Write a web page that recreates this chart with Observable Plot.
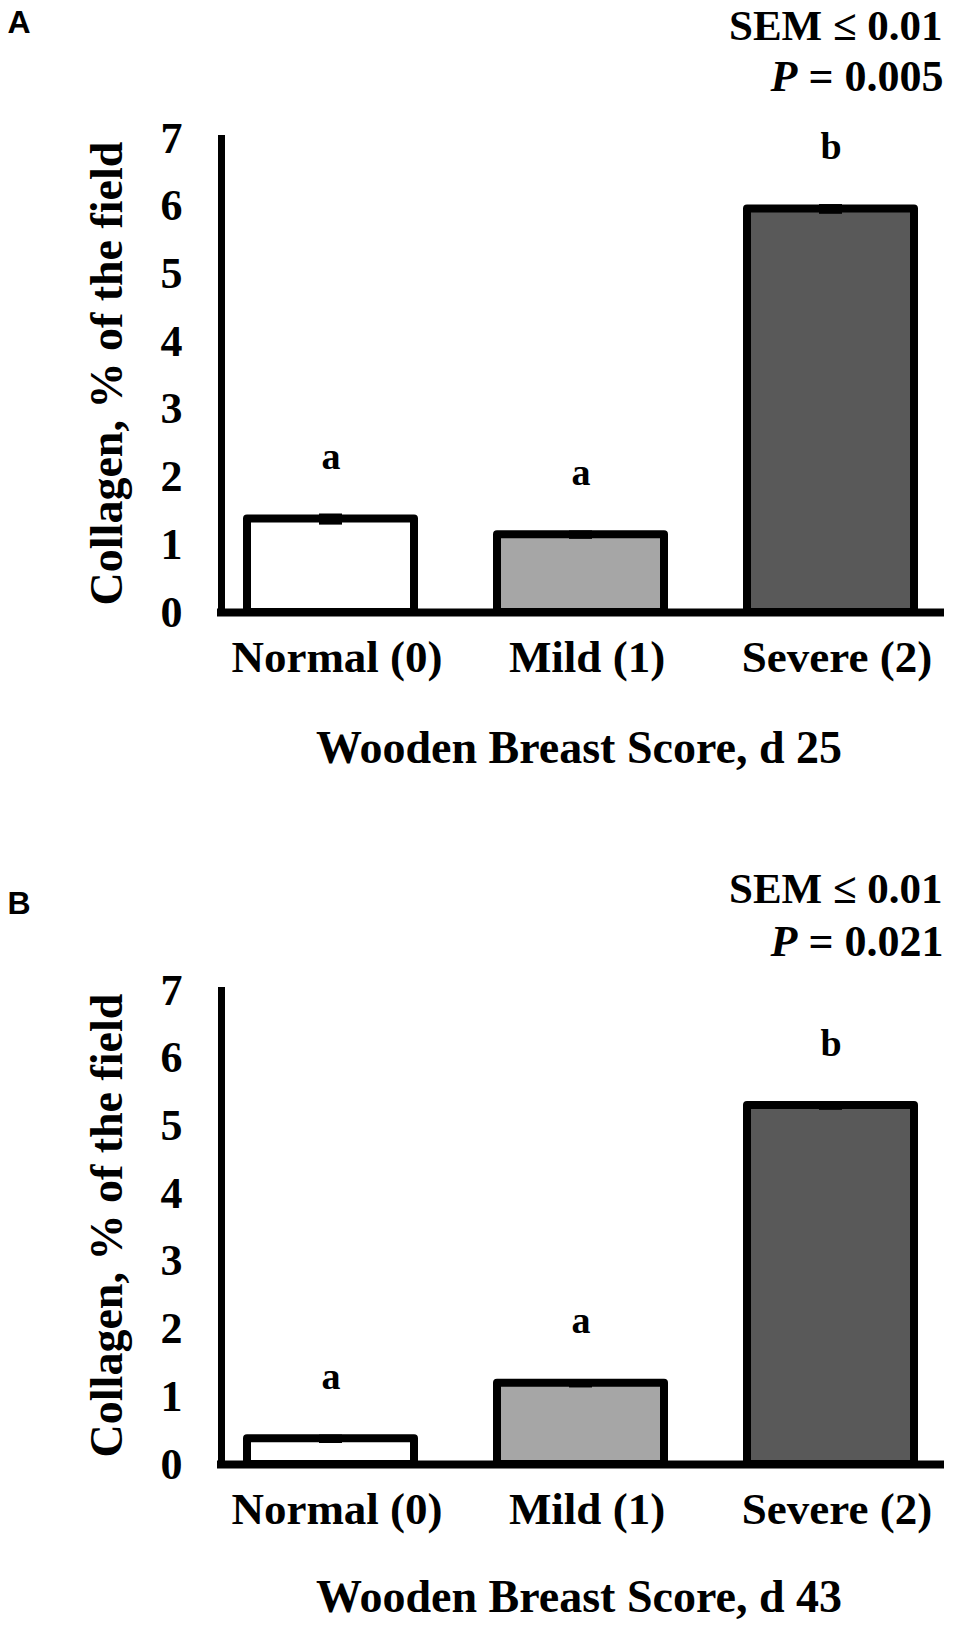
<!DOCTYPE html>
<html>
<head>
<meta charset="utf-8">
<script src="https://cdn.jsdelivr.net/npm/d3@7"></script>
<script src="https://cdn.jsdelivr.net/npm/@observablehq/plot@0.6"></script>
<style>
  body { margin: 0; background: #fff; }
  #chart svg { display: block; }
</style>
</head>
<body>
<div id="chart"></div>
<script>
// ---- data ----
const categories = ["Normal (0)", "Mild (1)", "Severe (2)"];
const fills = ["#ffffff", "#a6a6a6", "#595959"];
const yTicks = [0, 1, 2, 3, 4, 5, 6, 7];
const yLabel = "Collagen, % of the field";

const valuesA = [1.38, 1.15, 5.96];
const errorsA = [0.06, 0.04, 0.05];
const lettersA = ["a", "a", "b"];
const semA = "SEM ≤ 0.01";
const pA = "P = 0.005";
const titleA = "Wooden Breast Score, d 25";

const valuesB = [0.38, 1.20, 5.30];
const errorsB = [0.04, 0.04, 0.04];
const lettersB = ["a", "a", "b"];
const semB = "SEM ≤ 0.01";
const pB = "P = 0.021";
const titleB = "Wooden Breast Score, d 43";

// ---- layout (not data) ----
const layoutA = {panel: "A", height: 852, letterDy: -106, semDy: -99, pDy: -48, titleDy: 150};
const layoutB = {panel: "B", height: 776, letterDy: -77, semDy: -88, pDy: -35, titleDy: 147};

const serif = "'Liberation Serif', 'Times New Roman', Times, serif";
const sans = "'Liberation Sans', Arial, Helvetica, sans-serif";

function drawPanel(values, errors, letters, sem, p, xTitle, lay) {
  const data = categories.map((c, i) => ({
    cat: c, value: values[i], err: errors[i], letter: letters[i], fill: fills[i]
  }));
  const svg = Plot.plot({
    width: 954,
    height: lay.height,
    marginLeft: 221,
    marginRight: 14,
    marginTop: 138,
    marginBottom: lay.height - 612,
    style: {fontFamily: serif, fontWeight: "bold", background: "#fff", overflow: "visible", color: "#000"},
    x: {type: "band", domain: categories, paddingInner: 0.33, paddingOuter: 0.1, label: null},
    y: {domain: [0, 7], label: null},
    color: {type: "identity"},
    marks: [
      Plot.barY(data, {x: "cat", y: "value", fill: "fill", stroke: "#000", strokeWidth: 8, strokeLinejoin: "round"}),
      Plot.ruleX(data, {x: "cat", y1: d => d.value - d.err, y2: d => d.value + d.err, stroke: "#000", strokeWidth: 3}),
      Plot.tickY(data, {x: "cat", y: d => d.value + d.err, stroke: "#000", strokeWidth: 3, insetLeft: 72, insetRight: 72}),
      Plot.tickY(data, {x: "cat", y: d => d.value - d.err, stroke: "#000", strokeWidth: 3, insetLeft: 72, insetRight: 72}),
      Plot.text(data, {x: "cat", y: d => d.value, text: "letter", dy: -50, lineAnchor: "bottom", fontSize: 38, fill: "#000"}),
      Plot.ruleY([0], {stroke: "#000", strokeWidth: 8, strokeLinecap: "square"}),
      Plot.frame({anchor: "left", stroke: "#000", strokeWidth: 7}),
      Plot.axisY(yTicks, {tickSize: 0, tickPadding: 39, fontSize: 44, label: null, tickFormat: d => String(d), fill: "#000"}),
      Plot.axisX({tickSize: 0, tickPadding: 28, fontSize: 45, label: null, dx: 6, fill: "#000"}),
      Plot.text([yLabel], {frameAnchor: "left", rotate: -90, textAnchor: "middle", lineAnchor: "bottom", dx: -100, dy: -2, fontSize: 46, fill: "#000"}),
      Plot.text([xTitle], {frameAnchor: "bottom", textAnchor: "middle", lineAnchor: "bottom", dx: -2, dy: lay.titleDy, fontSize: 46, fill: "#000"}),
      Plot.text([sem], {frameAnchor: "top-right", textAnchor: "end", lineAnchor: "bottom", dx: 2, dy: lay.semDy, fontSize: 43, fill: "#000"}),
      Plot.text([p], {frameAnchor: "top-right", textAnchor: "end", lineAnchor: "bottom", dx: 3, dy: lay.pDy, fontSize: 44, fill: "#000"}),
      Plot.text([lay.panel], {frameAnchor: "top-left", textAnchor: "start", lineAnchor: "bottom", dx: -214, dy: lay.letterDy, fontSize: 32, fontFamily: sans, fontWeight: "bold", fill: "#000"})
    ]
  });
  // italic P in the p-value line
  d3.select(svg).selectAll("text").filter(function () {
    return this.textContent === p;
  }).each(function () {
    const t = this.textContent;
    const el = d3.select(this);
    el.text(null);
    el.append("tspan").attr("font-style", "italic").text(t.slice(0, 1));
    el.append("tspan").text(t.slice(1));
  });
  return svg;
}

const chart = document.getElementById("chart");
chart.appendChild(drawPanel(valuesA, errorsA, lettersA, semA, pA, titleA, layoutA));
chart.appendChild(drawPanel(valuesB, errorsB, lettersB, semB, pB, titleB, layoutB));
</script>
</body>
</html>
